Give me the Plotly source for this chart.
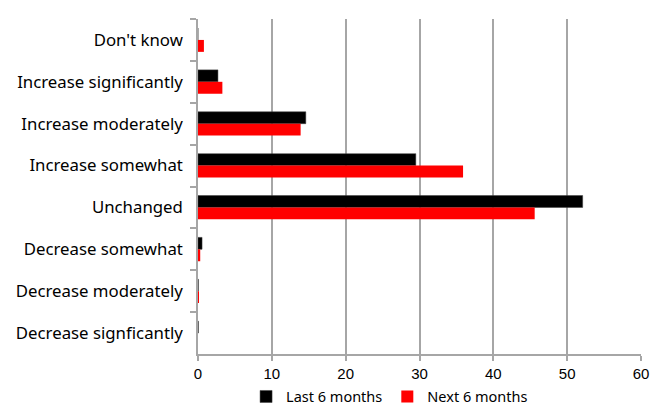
import plotly.graph_objects as go

categories = [
    "Don't know",
    "Increase significantly",
    "Increase moderately",
    "Increase somewhat",
    "Unchanged",
    "Decrease somewhat",
    "Decrease moderately",
    "Decrease signficantly",
]
last_6_months = [0.0, 2.7, 14.6, 29.5, 52.1, 0.55, 0.05, 0.05]
next_6_months = [0.8, 3.3, 13.9, 35.9, 45.6, 0.3, 0.05, 0.0]
x_ticks = [0, 10, 20, 30, 40, 50, 60]

fig = go.Figure()
fig.add_trace(go.Bar(
    y=categories, x=last_6_months, orientation="h", name="Last 6 months",
    marker=dict(color="#000000", line=dict(color="#404040", width=0.5)),
))
fig.add_trace(go.Bar(
    y=categories, x=next_6_months, orientation="h", name="Next 6 months",
    marker=dict(color="#ff0000", line=dict(width=0)),
))

fig.update_layout(
    width=651, height=408,
    margin=dict(l=198, r=10, t=19, b=54, autoexpand=False),
    paper_bgcolor="white", plot_bgcolor="white",
    barmode="group", bargap=0.43, bargroupgap=0,
    showlegend=True,
    legend=dict(
        orientation="h", xref="container", yref="paper",
        x=0.378, xanchor="left", y=-0.127, yanchor="middle",
        font=dict(family="Noto Sans", size=14.5, color="#000000"),
        itemwidth=30, traceorder="normal", tracegroupgap=0,
        borderwidth=0,
    ),
    font=dict(family="Noto Sans", size=16, color="#000000"),
)
fig.update_xaxes(
    range=[0, 60], tickvals=x_ticks, ticktext=[str(v) for v in x_ticks],
    showgrid=True, gridcolor="#a6a6a6", gridwidth=1.5,
    showline=True, linecolor="#a6a6a6", linewidth=1.5,
    ticks="outside", ticklen=5, tickcolor="#a6a6a6", tickwidth=1.5,
    tickfont=dict(family="Liberation Sans", size=15, color="#000000"),
    zeroline=False, fixedrange=True, automargin=False,
)
fig.update_yaxes(
    categoryorder="array", categoryarray=categories, autorange="reversed",
    showgrid=False, showline=True, linecolor="#a6a6a6", linewidth=1.5,
    ticks="outside", ticklen=6, tickcolor="#a6a6a6", tickwidth=1.5,
    tickson="boundaries", ticklabelstandoff=10,
    tickfont=dict(family="Noto Sans", size=16.8, color="#000000"),
    fixedrange=True, automargin=False,
)

fig.write_html("out.html")
